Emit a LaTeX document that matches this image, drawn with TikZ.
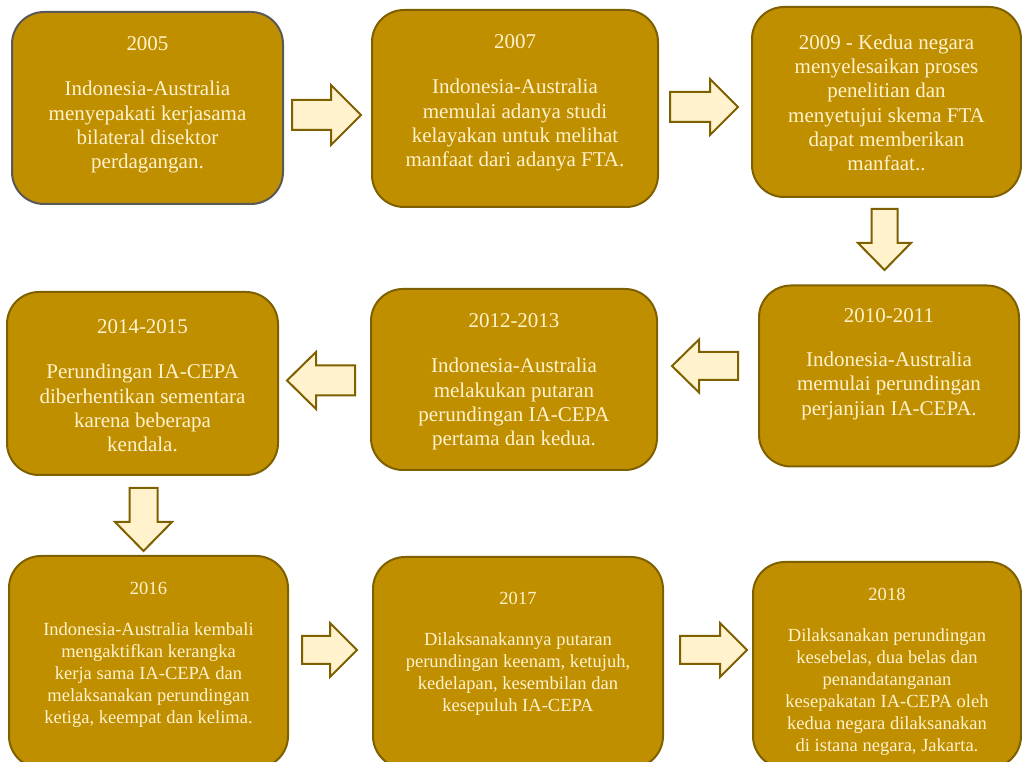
\documentclass[tikz,border=0pt]{standalone}
\usepackage{fontspec}
\setmainfont{Liberation Serif}
\definecolor{boxfill}{HTML}{BF8F00}
\definecolor{boxline}{HTML}{7F6000}
\definecolor{firstline}{HTML}{595959}
\definecolor{cream}{HTML}{FFF2CC}
\begin{document}
\begin{tikzpicture}[x=0.75pt,y=-0.75pt,
  box/.style={draw=boxline, fill=boxfill, line width=1.5pt, rounded corners=24pt, inner sep=0pt},
  txtbig/.style={text=cream, align=center, font=\fontsize{15.75}{18.2}\selectfont, inner sep=0pt},
  txtsmall/.style={text=cream, align=center, font=\fontsize{13.9}{16.6}\selectfont, inner sep=0pt},
  afill/.style={draw=boxline, fill=cream, line width=1.5pt, line join=miter},
  pics/barrow/.style args={#1/#2/#3/#4}{code={
    \path[afill] (-#1/2,-#3/2) -- (#1/2-#4,-#3/2) -- (#1/2-#4,-#2/2) -- (#1/2,0)
      -- (#1/2-#4,#2/2) -- (#1/2-#4,#3/2) -- (-#1/2,#3/2) -- cycle;}}
]
\useasboundingbox (0,0) rectangle (1022,762);
\clip (0,0) rectangle (1022,762);
\fill[white] (0,0) rectangle (1022,762);

% boxes
\node[box, draw=firstline, minimum width=203.25pt, minimum height=144pt] (b1) at (147.5,108) {};
\node[box, minimum width=214.5pt, minimum height=147.75pt] (b2) at (515,108.5) {};
\node[box, minimum width=201.75pt, minimum height=142.5pt] (b3) at (886.5,102) {};
\node[box, minimum width=195pt, minimum height=135.75pt] (b4) at (889,376) {};
\node[box, minimum width=214.5pt, minimum height=135.75pt] (b5) at (514,379.5) {};
\node[box, minimum width=203.25pt, minimum height=137.25pt] (b6) at (142.5,383.5) {};
\node[box, minimum width=209.25pt, minimum height=159pt] (b7) at (148.5,662) {};
\node[box, minimum width=217.5pt, minimum height=158.25pt] (b8) at (518,662.5) {};
\node[box, minimum width=201pt, minimum height=154.5pt] (b9) at (887,665) {};

% texts
\node[txtbig] (t1) at (147.5,105) {2005\\[15.5pt]Indonesia-Australia\\menyepakati kerjasama\\bilateral disektor\\perdagangan.};
\node[txtbig] (t2) at (515,103) {2007\\[15.5pt]Indonesia-Australia\\memulai adanya studi\\kelayakan untuk melihat\\manfaat dari adanya FTA.};
\node[txtbig] (t3) at (886.5,103) {2009 - Kedua negara\\menyelesaikan proses\\penelitian dan\\menyetujui skema FTA\\dapat memberikan\\manfaat..};
\node[txtbig] (t4) at (889,364) {2010-2011\\[15pt]Indonesia-Australia\\memulai perundingan\\perjanjian IA-CEPA.};
\node[txtbig] (t5) at (514,382) {2012-2013\\[15.5pt]Indonesia-Australia\\melakukan putaran\\perundingan IA-CEPA\\pertama dan kedua.};
\node[txtbig] (t6) at (142.5,386) {2014-2015\\[15.5pt]Perundingan IA-CEPA\\diberhentikan sementara\\karena beberapa\\kendala.};
\node[txtsmall] (t7) at (148.5,655) {2016\\[14pt]Indonesia-Australia kembali\\mengaktifkan kerangka\\kerja sama IA-CEPA dan\\melaksanakan perundingan\\ketiga, keempat dan kelima.};
\node[txtsmall] (t8) at (518,654) {2017\\[14pt]Dilaksanakannya putaran\\perundingan keenam, ketujuh,\\kedelapan, kesembilan dan\\kesepuluh IA-CEPA};
\node[txtsmall] (t9) at (887,672) {2018\\[14pt]Dilaksanakan perundingan\\kesebelas, dua belas dan\\penandatanganan\\kesepakatan IA-CEPA oleh\\kedua negara dilaksanakan\\di istana negara, Jakarta.};

% block arrows
\pic at (326.5,115) {barrow={69/60/30/30}};
\pic at (704,107) {barrow={68/56/30/28}};
\pic[rotate=-90] at (884.5,239.5) {barrow={61/53/26/27}};
\pic[rotate=180] at (705,366) {barrow={66/53/28/27}};
\pic[rotate=180] at (321,380.5) {barrow={68/57/30/29}};
\pic[rotate=-90] at (143.5,519.5) {barrow={63/57/28/29}};
\pic at (329.5,650) {barrow={55/54/28/27}};
\pic at (713.5,650) {barrow={67/54/28/27}};
\end{tikzpicture}
\end{document}
